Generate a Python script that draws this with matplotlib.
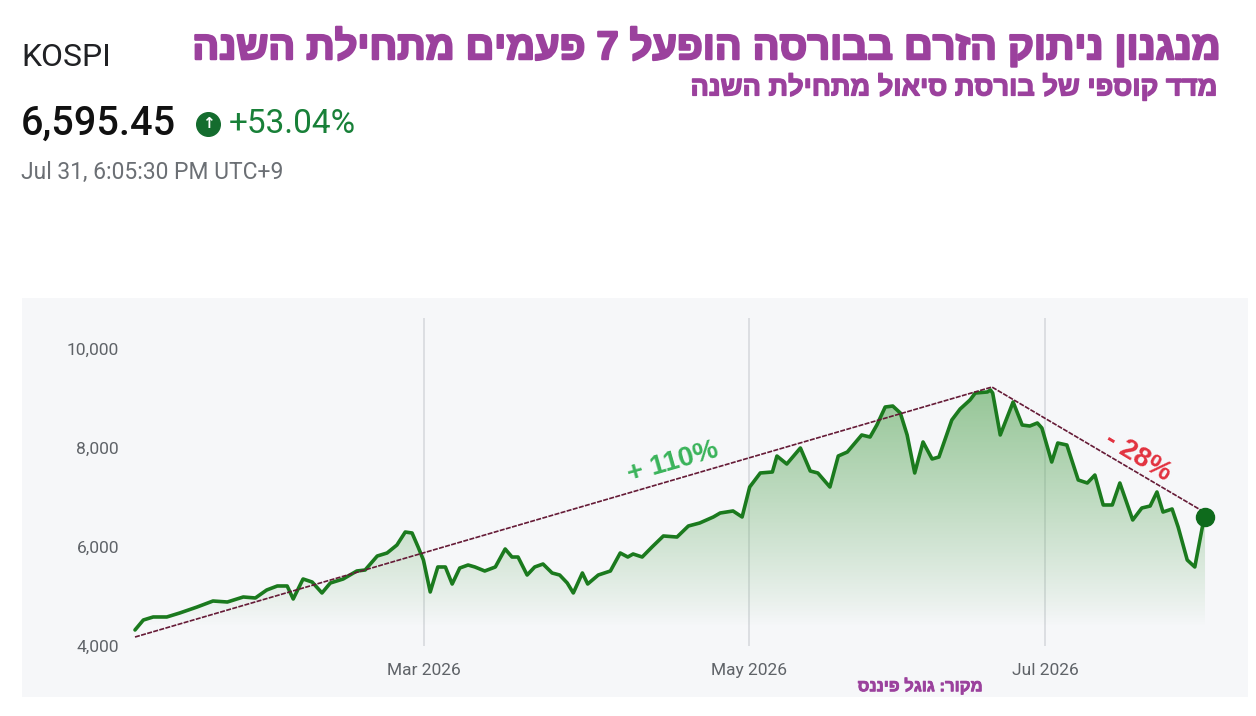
import matplotlib
matplotlib.use("Agg")
import matplotlib.pyplot as plt
import matplotlib.patheffects as pe
import numpy as np
from matplotlib.patches import Rectangle, Polygon
from matplotlib.lines import Line2D

# ---------------- data ----------------
# x = trading-session index since the start of 2026, y = KOSPI close
day_idx = [0, 1.1, 2.4, 4.2, 5.9, 8.2, 10.3, 12.2, 14.3, 15.9, 17.4, 18.8, 20.1, 20.9,
           22.2, 23.4, 24.7, 25.8, 27.5, 29.3, 30.4, 32.0, 33.3, 34.6, 35.7, 36.6, 37.4,
           38.1, 39.0, 40.0, 41.0, 41.9, 42.9, 44.0, 44.9, 46.2, 47.6, 48.9, 49.8, 50.6,
           51.8, 52.8, 53.9, 55.1, 56.1, 57.1, 57.9, 59.1, 59.8, 61.2, 62.8, 64.1, 65.1,
           65.8, 67.0, 68.3, 69.8, 71.6, 73.1, 74.6, 76.4, 77.3, 79.0, 80.2, 81.2, 82.6,
           84.2, 84.8, 86.1, 87.9, 89.2, 90.2, 91.8, 92.9, 94.1, 96.0, 97.1, 98.0, 99.1,
           100.1, 101.1, 102.0, 103.0, 104.1, 105.3, 106.2, 107.9, 109.0, 110.3, 111.0,
           112.6, 113.0, 113.3, 114.3, 116.0, 117.2, 118.2, 119.2, 119.8, 121.1, 121.9,
           123.1, 124.6, 125.8, 126.8, 127.9, 129.1, 130.1, 131.8, 133.0, 134.1, 135.0,
           135.8, 137.0, 137.8, 139.0, 140.0, 141.0, 141.35]
kospi = [4323, 4524, 4585, 4585, 4665, 4786, 4907, 4887, 4988, 4968, 5129, 5210, 5210, 4948,
         5351, 5290, 5069, 5270, 5351, 5512, 5532, 5814, 5875, 6036, 6298, 6278, 5996,
         5734, 5089, 5593, 5593, 5250, 5572, 5633, 5593, 5512, 5593, 5956, 5794, 5794,
         5431, 5593, 5653, 5472, 5431, 5270, 5069, 5472, 5250, 5431, 5512, 5875, 5794,
         5855, 5794, 5996, 6218, 6197, 6419, 6480, 6601, 6681, 6722, 6601, 7205, 7488,
         7508, 7830, 7669, 7992, 7528, 7488, 7205, 7830, 7911, 8254, 8213, 8455, 8818,
         8838, 8697, 8254, 7488, 8113, 7770, 7810, 8556, 8778, 8959, 9100,
         9121, 9161, 9100, 8254, 8919, 8455, 8435, 8496, 8395, 7709, 8092,
         8052, 7347, 7286, 7447, 6843, 6843, 7286, 6540, 6782, 6822, 7105,
         6701, 6762, 6399, 5734, 5593, 6399, 6595.45]

# trend anchors (start, peak, last)
trend_idx = [0, 113.2, 141.35]
trend_val = [4181, 9221, 6690]

tick_idx = [38.2, 81.1, 120.2]
tick_labels = ["Mar 2026", "May 2026", "Jul 2026"]
ytick_vals = [4000, 6000, 8000, 10000]

title = "מנגנון ניתוק הזרם בבורסה הופעל 7 פעמים מתחילת השנה"
subtitle = "מדד קוספי של בורסת סיאול מתחילת השנה"
source = "מקור: גוגל פיננס"
up_label = "+ 110%"
down_label = "- 28%"

def rtl(s):
    return s[::-1]

W, H = 1256, 716
fig = plt.figure(figsize=(W / 100, H / 100), dpi=100)
fig.patch.set_facecolor("white")

def fx(px):
    return px / W

def fy(py):
    return 1 - py / H

# panel background
fig.patches.append(Rectangle((fx(22), fy(697)), fx(1248) - fx(22), fy(298) - fy(697),
                             transform=fig.transFigure, facecolor="#f6f7f9",
                             edgecolor="none", zorder=-5))

heb = ["Liberation Sans", "DejaVu Sans"]
purple = "#9b419d"

def bold_fx(lw, color):
    return [pe.withStroke(linewidth=lw, foreground=color)]

# header texts
fig.text(fx(1220), fy(47), rtl(title), ha="right", va="center", fontsize=28.6,
         fontweight="bold", color=purple, family=heb,
         path_effects=bold_fx(1.6, purple))
fig.text(fx(1218), fy(88), rtl(subtitle), ha="right", va="center", fontsize=19.6,
         fontweight="bold", color=purple, family=heb,
         path_effects=bold_fx(1.0, purple))

fig.text(fx(21), fy(57), "KOSPI", ha="left", va="center", fontsize=23,
         color="#202124", family=["Roboto", "DejaVu Sans"])
fig.text(fx(21), fy(124), "6,595.45", ha="left", va="center", fontsize=28.5,
         color="#111111", family=["Roboto", "DejaVu Sans"], fontweight="medium")
fig.add_artist(Line2D([fx(208)], [fy(124)], marker="o", markersize=17,
                      color="#146c2e", transform=fig.transFigure))
fig.text(fx(208), fy(123), "↑", ha="center", va="center", fontsize=11,
         color="white", fontweight="bold", family=["DejaVu Sans"])
fig.text(fx(229), fy(124), "+53.04%", ha="left", va="center", fontsize=24,
         color="#188038", family=["Roboto", "DejaVu Sans"])
fig.text(fx(21), fy(172), "Jul 31, 6:05:30 PM UTC+9", ha="left", va="center",
         fontsize=16.5, color="#6b6f74", family=["Roboto", "DejaVu Sans"])

# chart axes
ax = fig.add_axes([fx(130), fy(646), fx(1230) - fx(130), fy(318) - fy(646)])
ax.set_facecolor("none")
x0 = (130 - 135) / 7.57
x1 = (1230 - 135) / 7.57
ylo, yhi = 4000, 4000 + (646 - 318) * 20.16

for s in ax.spines.values():
    s.set_visible(False)

ax.set_xticks(tick_idx)
ax.set_xticklabels(tick_labels)
ax.set_yticks(ytick_vals)
ax.set_yticklabels([f"{v:,}" for v in ytick_vals])
ax.tick_params(axis="both", length=0, labelsize=12.5, labelcolor="#5f6368")
ax.tick_params(axis="y", pad=8)
ax.tick_params(axis="x", pad=12)
for lab in ax.get_xticklabels() + ax.get_yticklabels():
    lab.set_family(["Roboto", "DejaVu Sans"])
ax.grid(axis="x", color="#dadce0", linewidth=1.3, zorder=0)
ax.set_axisbelow(True)

# gradient fill under the line
xs = np.array(day_idx)
ys = np.array(kospi, dtype=float)
grad_top, grad_bot = 9300, 4400
ny = 256
vals = np.linspace(ylo, yhi, ny)
alpha = np.clip((vals - grad_bot) / (grad_top - grad_bot), 0, 1) ** 0.9 * 0.64
img = np.zeros((ny, 2, 4))
img[..., 0] = 0.36
img[..., 1] = 0.66
img[..., 2] = 0.36
img[..., 3] = alpha[:, None]
im = ax.imshow(img, extent=[xs[0], xs[-1], ylo, yhi], origin="lower",
               aspect="auto", zorder=1, interpolation="bilinear")
poly = Polygon(np.column_stack([np.r_[xs, xs[-1], xs[0]], np.r_[ys, ylo, ylo]]),
               closed=True, facecolor="none", edgecolor="none", transform=ax.transData)
ax.add_patch(poly)
im.set_clip_path(poly)

# price line
ax.plot(xs, ys, color="#1b7a1e", linewidth=2.6, solid_joinstyle="round",
        solid_capstyle="round", zorder=3)

# trend lines
ax.plot(trend_idx, trend_val, color="#651a36", linewidth=1.2,
        linestyle=(0, (3, 0.8)), zorder=4)

# last point marker
ax.plot([xs[-1]], [ys[-1]], marker="o", markersize=13, color="#0e6b1c", zorder=5)

ax.set_xlim(x0, x1)
ax.set_ylim(ylo, yhi)

# annotations
ax.text((673 - 135) / 7.57, 4000 + (646 - 462) * 20.16, up_label, rotation=16,
        ha="center", va="center", fontsize=20, fontweight="bold", color="#3ab35a",
        family=["Liberation Sans", "DejaVu Sans"], zorder=6)
ax.text((1138 - 135) / 7.57, 4000 + (646 - 457) * 20.16, down_label, rotation=-31,
        ha="center", va="center", fontsize=20, fontweight="bold", color="#e2323f",
        family=["Liberation Sans", "DejaVu Sans"], zorder=6)

fig.text(fx(920), fy(686), rtl(source), ha="center", va="center", fontsize=12,
         fontweight="bold", color=purple, family=heb,
         path_effects=bold_fx(0.6, purple))

fig.savefig("out.png", dpi=100)
